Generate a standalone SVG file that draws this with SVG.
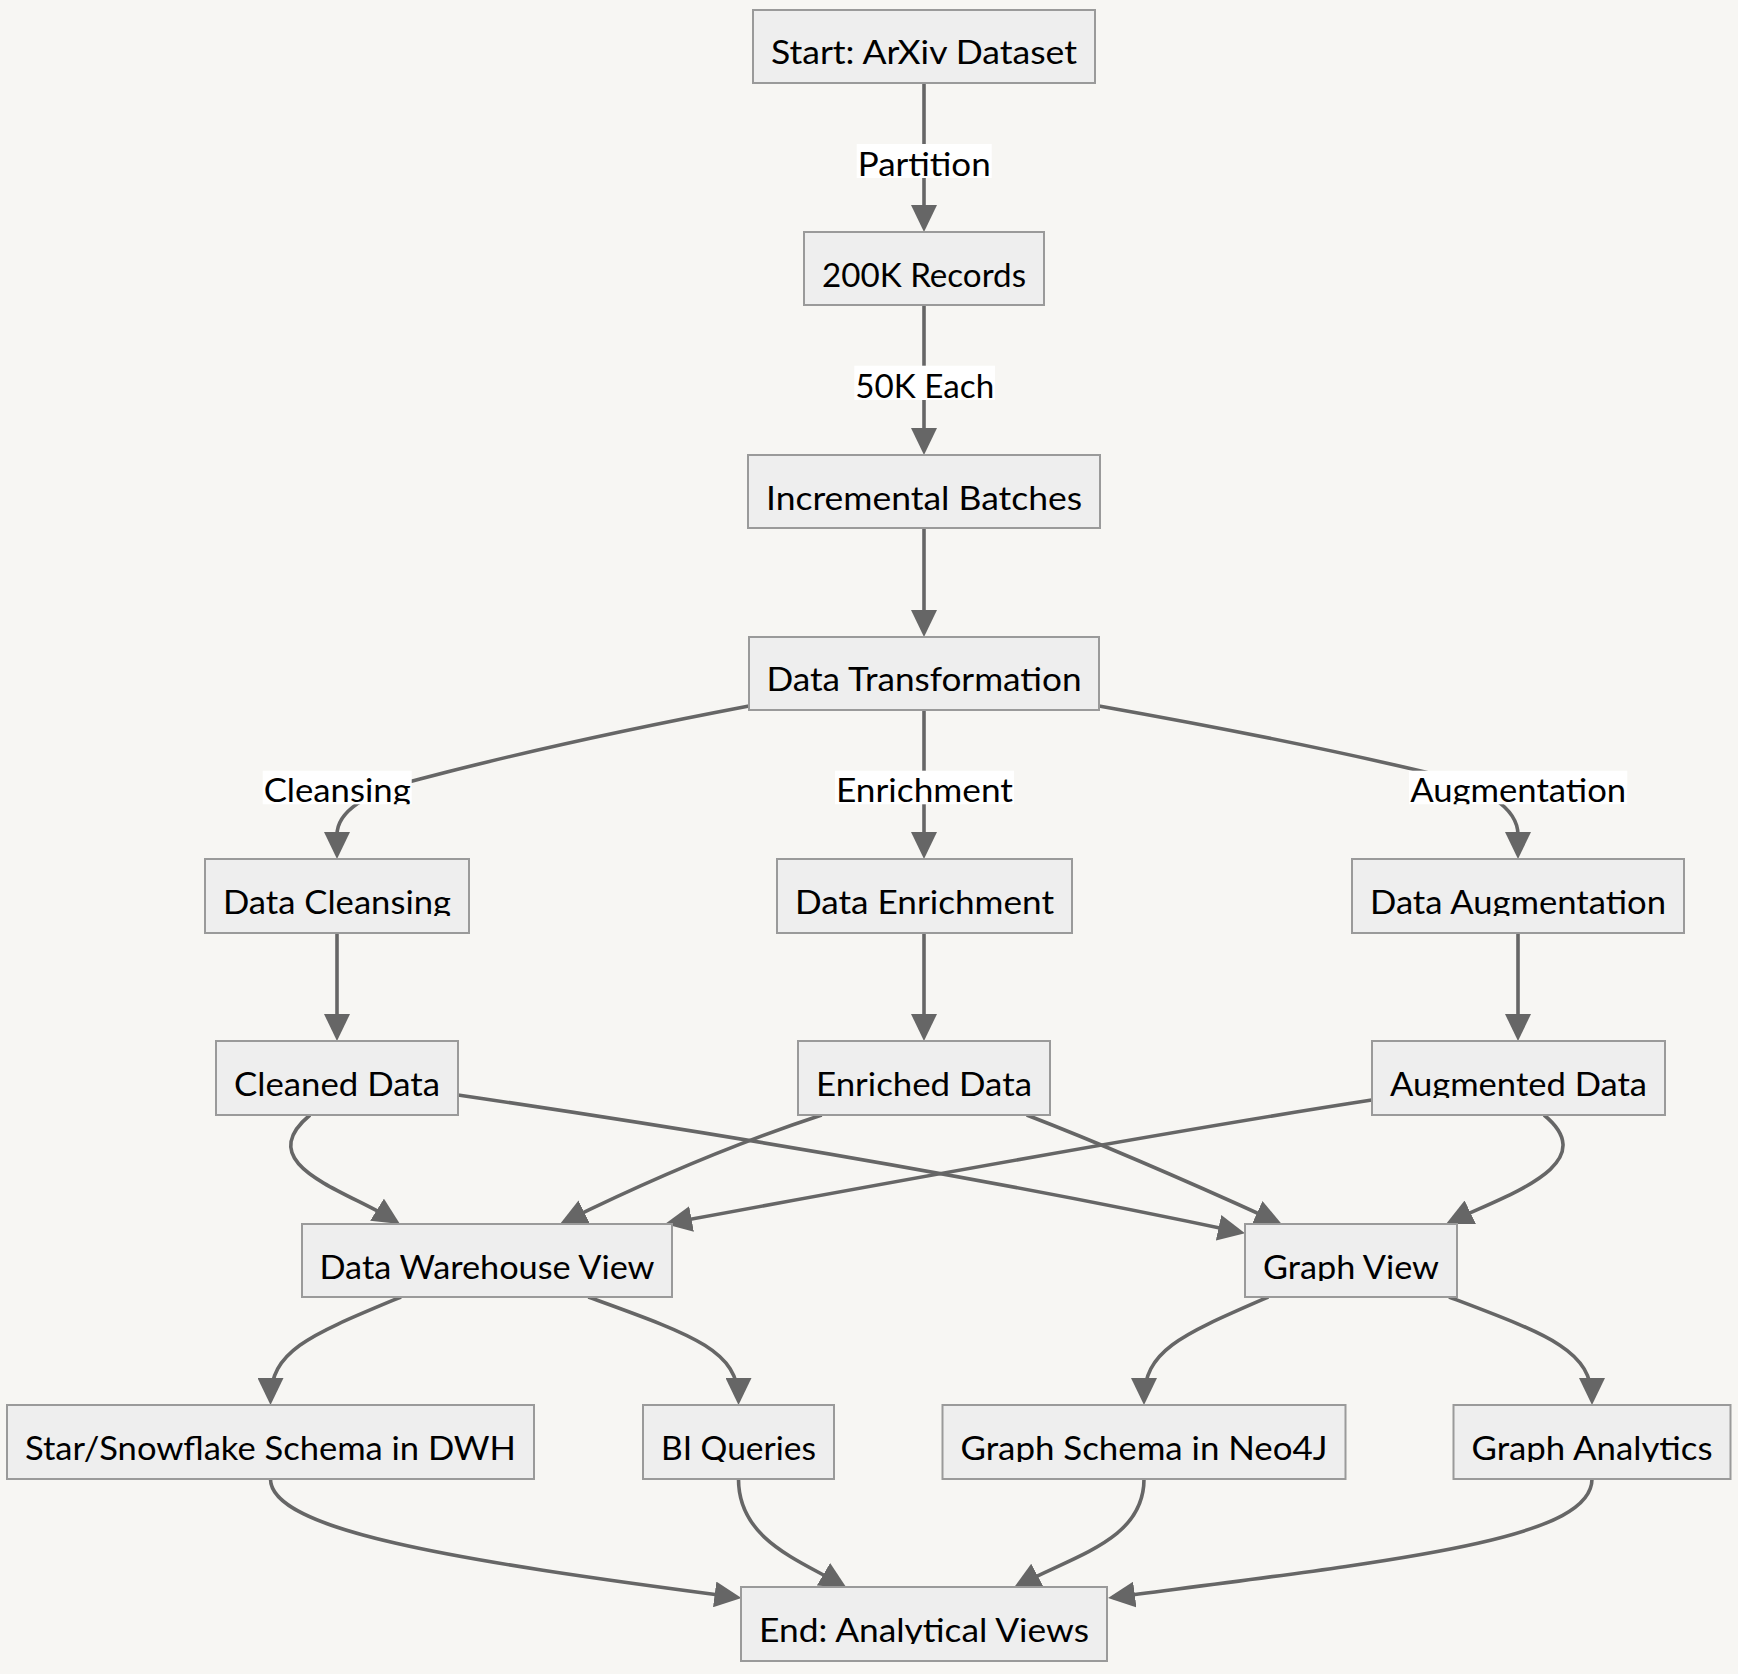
<svg xmlns="http://www.w3.org/2000/svg" width="1738" height="1674" viewBox="0 0 1738 1674">
  <style>
    .node rect { fill: #eeeeee; stroke: #9a9a9a; stroke-width: 2; }
    .node text, .lbl text { font-family: Lato, "Noto Sans", sans-serif; font-size: 33px; fill: #000; text-anchor: middle; }
    .edge { fill: none; stroke: #666666; stroke-width: 3.6; marker-end: url(#arrow); }
    .lbl rect { fill: #ffffff; }
  </style>
  <defs>
    <marker id="arrow" markerUnits="userSpaceOnUse" viewBox="0 0 27 26" markerWidth="27" markerHeight="26" refX="22" refY="13" orient="auto">
      <path d="M0,0 L27,13 L0,26 z" fill="#666666"/>
    </marker>
    <!-- text areas: descenders are trimmed just below the baseline -->
    <clipPath id="txt" clipPathUnits="userSpaceOnUse">
      <rect x="753" y="10" width="342" height="57"/>
      <rect x="804" y="232" width="240" height="57"/>
      <rect x="748" y="455" width="352" height="57"/>
      <rect x="749" y="637" width="350" height="57"/>
      <rect x="205" y="859" width="264" height="57"/>
      <rect x="777" y="859" width="295" height="57"/>
      <rect x="1352" y="859" width="332" height="57"/>
      <rect x="216" y="1041" width="242" height="57"/>
      <rect x="798" y="1041" width="252" height="57"/>
      <rect x="1372" y="1041" width="293" height="57"/>
      <rect x="302" y="1224" width="370" height="57"/>
      <rect x="1245" y="1224" width="212" height="57"/>
      <rect x="7" y="1405" width="527" height="57"/>
      <rect x="643" y="1405" width="191" height="57"/>
      <rect x="942.5" y="1405" width="403" height="57"/>
      <rect x="1453.5" y="1405" width="277" height="57"/>
      <rect x="741" y="1587" width="366" height="57"/>
      <rect x="856.7" y="144" width="135" height="34"/>
      <rect x="854.3" y="365.7" width="140.7" height="34.3"/>
      <rect x="262.7" y="770.7" width="149" height="33.6"/>
      <rect x="835" y="770.7" width="179" height="33.6"/>
      <rect x="1409" y="770.7" width="218.3" height="33.6"/>
    </clipPath>
  </defs>

  <rect x="0" y="0" width="1738" height="1674" fill="#f7f6f3"/>

  <g id="connectors">
    <path class="edge" d="M924,83 L924,227"/>
    <path class="edge" d="M924,305 L924,450"/>
    <path class="edge" d="M924,528 L924,632"/>
    <path class="edge" d="M749,706 Q560,742 420,779 Q337,800 337,835 L337,854"/>
    <path class="edge" d="M924,710 L924,854"/>
    <path class="edge" d="M1099,706 Q1290,740 1425,772 Q1518,795 1518,835 L1518,854"/>
    <path class="edge" d="M337,933 L337,1036"/>
    <path class="edge" d="M924,933 L924,1036"/>
    <path class="edge" d="M1518,933 L1518,1036"/>
    <path class="edge" d="M310,1115 C250,1165 344.7,1189.5 395.7,1221.3"/>
    <path class="edge" d="M458,1095 Q900,1160 1240.1,1232.3"/>
    <path class="edge" d="M821.7,1115 Q700,1155 564.5,1221.8"/>
    <path class="edge" d="M1026.7,1115 Q1130,1155 1277.1,1222"/>
    <path class="edge" d="M1371.7,1100 Q1145,1135 669.9,1223.1"/>
    <path class="edge" d="M1544,1115 C1605,1165 1504.5,1195.6 1450.5,1221.8"/>
    <path class="edge" d="M401,1297 C310,1335 270.5,1350 270.5,1400"/>
    <path class="edge" d="M588.3,1297 C693,1335 738.5,1350 738.5,1400"/>
    <path class="edge" d="M1268.3,1297 C1181,1335 1144,1350 1144,1400"/>
    <path class="edge" d="M1449,1297 C1549,1335 1592,1350 1592,1400"/>
    <path class="edge" d="M270.5,1479 C270.5,1530 450,1560 736.5,1597.3"/>
    <path class="edge" d="M738.5,1479 C738.5,1540 799.4,1560 842.4,1585.5"/>
    <path class="edge" d="M1144,1479 C1144,1540 1075,1555 1018,1585.6"/>
    <path class="edge" d="M1592,1479 C1592,1540 1400,1560 1113,1597.4"/>
  </g>

  <g id="edge-labels">
    <g class="lbl" id="lbl-partition">
      <rect x="856.7" y="144" width="135" height="34"/>
      <text x="924.2" y="175.5" textLength="133" lengthAdjust="spacingAndGlyphs" clip-path="url(#txt)">Partition</text>
    </g>
    <g class="lbl" id="lbl-50k">
      <rect x="854.3" y="365.7" width="140.7" height="34.3"/>
      <text x="924.7" y="397.8" textLength="139" lengthAdjust="spacingAndGlyphs" clip-path="url(#txt)">50K Each</text>
    </g>
    <g class="lbl" id="lbl-cleansing">
      <rect x="262.7" y="770.7" width="149" height="33.6"/>
      <text x="337.2" y="801.8" textLength="147" lengthAdjust="spacingAndGlyphs" clip-path="url(#txt)">Cleansing</text>
    </g>
    <g class="lbl" id="lbl-enrichment">
      <rect x="835" y="770.7" width="179" height="33.6"/>
      <text x="924.5" y="801.8" textLength="177" lengthAdjust="spacingAndGlyphs" clip-path="url(#txt)">Enrichment</text>
    </g>
    <g class="lbl" id="lbl-augmentation">
      <rect x="1409" y="770.7" width="218.3" height="33.6"/>
      <text x="1518.2" y="801.8" textLength="216" lengthAdjust="spacingAndGlyphs" clip-path="url(#txt)">Augmentation</text>
    </g>
  </g>

  <g id="start" class="node">
    <rect x="753" y="10" width="342" height="73"/>
    <text x="924" y="64" textLength="306" lengthAdjust="spacingAndGlyphs" clip-path="url(#txt)">Start: ArXiv Dataset</text>
  </g>
  <g id="records" class="node">
    <rect x="804" y="232" width="240" height="73"/>
    <text x="924" y="286.5" textLength="204" lengthAdjust="spacingAndGlyphs" clip-path="url(#txt)">200K Records</text>
  </g>
  <g id="batches" class="node">
    <rect x="748" y="455" width="352" height="73"/>
    <text x="924" y="509.5" textLength="316" lengthAdjust="spacingAndGlyphs" clip-path="url(#txt)">Incremental Batches</text>
  </g>
  <g id="transform" class="node">
    <rect x="749" y="637" width="350" height="73"/>
    <text x="924" y="691" textLength="315" lengthAdjust="spacingAndGlyphs" clip-path="url(#txt)">Data Transformation</text>
  </g>
  <g id="cleansing" class="node">
    <rect x="205" y="859" width="264" height="74"/>
    <text x="337" y="913.5" textLength="228" lengthAdjust="spacingAndGlyphs" clip-path="url(#txt)">Data Cleansing</text>
  </g>
  <g id="enrichment" class="node">
    <rect x="777" y="859" width="295" height="74"/>
    <text x="924.5" y="913.5" textLength="259" lengthAdjust="spacingAndGlyphs" clip-path="url(#txt)">Data Enrichment</text>
  </g>
  <g id="augmentation" class="node">
    <rect x="1352" y="859" width="332" height="74"/>
    <text x="1518" y="913.5" textLength="296" lengthAdjust="spacingAndGlyphs" clip-path="url(#txt)">Data Augmentation</text>
  </g>
  <g id="cleaned" class="node">
    <rect x="216" y="1041" width="242" height="74"/>
    <text x="337" y="1095.5" textLength="206" lengthAdjust="spacingAndGlyphs" clip-path="url(#txt)">Cleaned Data</text>
  </g>
  <g id="enriched" class="node">
    <rect x="798" y="1041" width="252" height="74"/>
    <text x="924" y="1095.5" textLength="216" lengthAdjust="spacingAndGlyphs" clip-path="url(#txt)">Enriched Data</text>
  </g>
  <g id="augmented" class="node">
    <rect x="1372" y="1041" width="293" height="74"/>
    <text x="1518.5" y="1095.5" textLength="257" lengthAdjust="spacingAndGlyphs" clip-path="url(#txt)">Augmented Data</text>
  </g>
  <g id="dwh-view" class="node">
    <rect x="302" y="1224" width="370" height="73"/>
    <text x="487" y="1278.5" textLength="335" lengthAdjust="spacingAndGlyphs" clip-path="url(#txt)">Data Warehouse View</text>
  </g>
  <g id="graph-view" class="node">
    <rect x="1245" y="1224" width="212" height="73"/>
    <text x="1351" y="1278.5" textLength="176" lengthAdjust="spacingAndGlyphs" clip-path="url(#txt)">Graph View</text>
  </g>
  <g id="star-schema" class="node">
    <rect x="7" y="1405" width="527" height="74"/>
    <text x="270.5" y="1459.5" textLength="491" lengthAdjust="spacingAndGlyphs" clip-path="url(#txt)">Star/Snowflake Schema in DWH</text>
  </g>
  <g id="bi-queries" class="node">
    <rect x="643" y="1405" width="191" height="74"/>
    <text x="738.5" y="1459.5" textLength="155" lengthAdjust="spacingAndGlyphs" clip-path="url(#txt)">BI Queries</text>
  </g>
  <g id="neo4j" class="node">
    <rect x="942.5" y="1405" width="403" height="74"/>
    <text x="1144" y="1459.5" textLength="367" lengthAdjust="spacingAndGlyphs" clip-path="url(#txt)">Graph Schema in Neo4J</text>
  </g>
  <g id="graph-analytics" class="node">
    <rect x="1453.5" y="1405" width="277" height="74"/>
    <text x="1592" y="1459.5" textLength="241" lengthAdjust="spacingAndGlyphs" clip-path="url(#txt)">Graph Analytics</text>
  </g>
  <g id="end" class="node">
    <rect x="741" y="1587" width="366" height="74"/>
    <text x="924" y="1641.5" textLength="330" lengthAdjust="spacingAndGlyphs" clip-path="url(#txt)">End: Analytical Views</text>
  </g>
</svg>
